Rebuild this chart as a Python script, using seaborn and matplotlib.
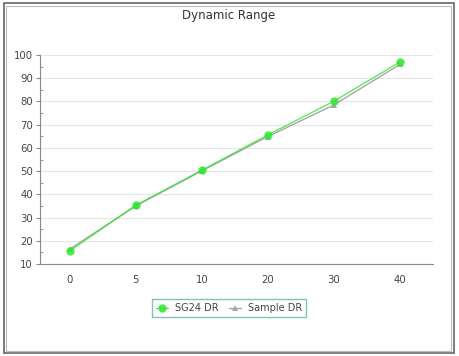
import pandas as pd
import seaborn as sns
import matplotlib.pyplot as plt
from matplotlib.ticker import MultipleLocator
from matplotlib.patches import Rectangle

# значения
levels = ['0', '5', '10', '20', '30', '40']
sg24_dr = [15.6, 35.3, 50.4, 65.6, 80.1, 97.0]
sample_dr = [16.4, 35.0, 50.1, 64.9, 78.5, 96.0]

df = pd.concat([
    pd.DataFrame({'level': levels, 'dr': sg24_dr, 'series': 'SG24 DR'}),
    pd.DataFrame({'level': levels, 'dr': sample_dr, 'series': 'Sample DR'}),
])

sns.set_style('white')
plt.rcParams['font.family'] = ['DejaVu Sans']

fig = plt.figure(figsize=(4.6, 3.56), dpi=100)
ax = fig.add_axes([40 / 460, 1 - 264 / 356, 393 / 460, 209 / 356])

green = '#2ee62e'
gray = '#a6a6a6'

sns.lineplot(data=df[df['series'] == 'Sample DR'], x='level', y='dr', ax=ax,
             color=gray, marker='^', markersize=5, linewidth=1,
             markeredgewidth=0, label='Sample DR', sort=False)
sns.lineplot(data=df[df['series'] == 'SG24 DR'], x='level', y='dr', ax=ax,
             color=green, marker='o', markersize=6, linewidth=0.9,
             markeredgewidth=0, label='SG24 DR', sort=False, alpha=0.85)

ax.set_xlim(-0.45, 5.5)
ax.set_ylim(10, 100)
ax.yaxis.set_major_locator(MultipleLocator(10))
ax.yaxis.set_minor_locator(MultipleLocator(5))
ax.grid(axis='y', color='#e4e4e4', linewidth=0.8)
ax.set_axisbelow(True)
for s in ['top', 'right']:
    ax.spines[s].set_visible(False)
for s in ['left', 'bottom']:
    ax.spines[s].set_color('#888888')
    ax.spines[s].set_linewidth(0.8)
ax.tick_params(axis='both', which='major', length=3, color='#888888',
               labelsize=7.3, labelcolor='#444444', pad=2, left=True, bottom=False)
ax.tick_params(axis='x', pad=5)
ax.tick_params(axis='y', which='minor', direction='in', length=2, color='#888888', left=True)
ax.set_xlabel('')
ax.set_ylabel('')

handles, labels = ax.get_legend_handles_labels()
leg = ax.legend(handles[::-1], labels[::-1], loc='center', bbox_to_anchor=(229 / 460, 1 - 308 / 356),
                bbox_transform=fig.transFigure, ncol=2, fontsize=7, frameon=True,
                fancybox=False, handlelength=1.3, columnspacing=1.0, borderpad=0.4,
                handletextpad=0.7)
leg.get_frame().set_edgecolor('#5fb3a8')
leg.get_frame().set_linewidth(1)
for t in leg.get_texts():
    t.set_color('#444444')

fig.text(229 / 460, 1 - 16 / 356, 'Dynamic Range', ha='center', va='center',
         fontsize=8.5, color='#333333')

# двойная рамка вокруг графика
fig.patches.append(Rectangle((4 / 460, 3 / 356), 450 / 460, 350 / 356, transform=fig.transFigure,
                             fill=False, edgecolor='#666666', linewidth=1.2))
fig.patches.append(Rectangle((6.5 / 460, 5.5 / 356), 445 / 460, 345 / 356, transform=fig.transFigure,
                             fill=False, edgecolor='#bbbbbb', linewidth=0.8))

fig.savefig('out.png', dpi=100)
